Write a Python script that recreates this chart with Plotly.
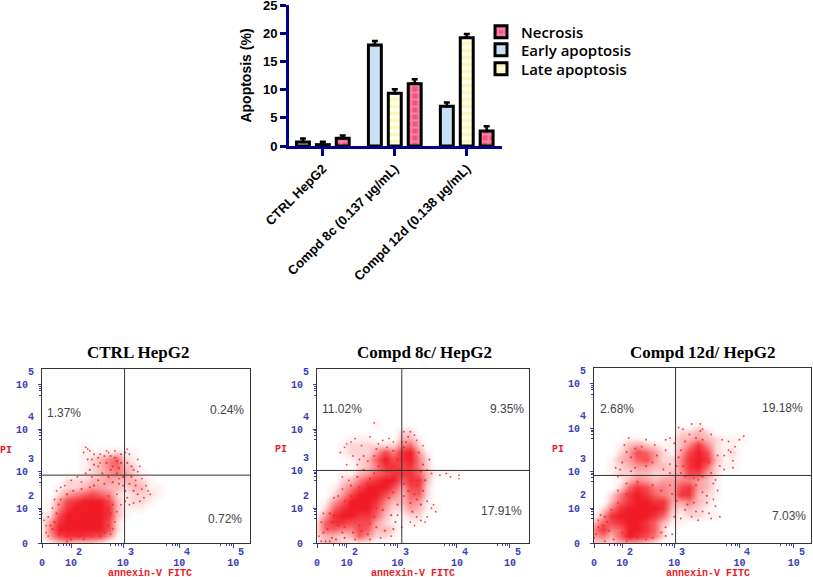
import plotly.graph_objects as go

# ---- bar chart values ----
categories = ["CTRL HepG2", "Compd 8c (0.137 μg/mL)", "Compd 12d (0.138 μg/mL)"]
early = [0.72, 17.91, 7.03]
late = [0.24, 9.35, 19.18]
necrosis = [1.37, 11.02, 2.68]
early_err = [0.6, 0.7, 0.7]
late_err = [0.5, 0.7, 0.7]
necrosis_err = [0.5, 0.8, 0.8]
bar_ticks = [0, 5, 10, 15, 20, 25]

# ---- flow panels: axes in % of display width/height ----
titles = ["CTRL HepG2", "Compd 8c/ HepG2", "Compd 12d/ HepG2"]
exponents = ["2", "3", "4", "5"]
x_decades = [[14, 39, 66, 92], [14, 38, 66, 91], [13, 37, 67, 92]]
y_decades = [[20, 41, 65.5, 91], [20, 41.7, 65.5, 91], [20, 41, 65.5, 91]]
gates_x = [39.7, 40, 37.6]
gates_y = [39, 41.7, 38.6]
q_ul = ["1.37%", "11.02%", "2.68%"]
q_ur = ["0.24%", "9.35%", "19.18%"]
q_lr = ["0.72%", "17.91%", "7.03%"]

# event density, 0-9, cells every 4 % of display; rows from y=72 down to y=0
density_x = list(range(0, 76, 4))
density_y = list(range(72, -4, -4))
ctrl_density = [
    "0000000000000000000",
    "0000000000000000000",
    "0000000000000000000",
    "0000000000000000000",
    "0000010000000000000",
    "0000011112110000000",
    "0000012356210000000",
    "0000012356320000000",
    "0000012345421000000",
    "0002223343332100000",
    "0012234433233110000",
    "0024567652122210000",
    "0147899973122100000",
    "0158999983111000000",
    "1279999983100000000",
    "1489999972000000000",
    "1599999972000000000",
    "1478887741000000000",
    "0123222100000000000",
]
comp8_density = [
    "0000000000000000000",
    "0000000100000000000",
    "0000000000220000000",
    "0000111000331000000",
    "0001222222562000000",
    "0001222475894100000",
    "0000123697895200000",
    "0000023588785200000",
    "0001134678886311100",
    "0002357899688300000",
    "0013579997477200000",
    "0024799975366200000",
    "0146999853354100000",
    "0268999742243110000",
    "1489988631122000000",
    "2688777421011000000",
    "2665576332000000000",
    "2332364221000000000",
    "1332111000000000000",
]
comp12_density = [
    "0000000000000000000",
    "0000000000001000000",
    "0000000000223200000",
    "0000110001334321110",
    "0001343211358521100",
    "0002476421479721200",
    "0013467422589831100",
    "0012344332589621100",
    "0012233223477420000",
    "0001354344554310000",
    "0002687554784310000",
    "0025898654883210000",
    "0036899884453200000",
    "0258999983232100000",
    "0489999862122110000",
    "3678998631100000000",
    "5856998620000000000",
    "4536987520000000000",
    "2223332100000000000",
]
density_sets = [ctrl_density, comp8_density, comp12_density]

# individual events around the clouds, read in % of display
ctrl_mid = [(34,44),(36,47),(33,42),(37,43),(35,49),(38,46),(31,46),(33,50),(29,40),(32,38),(36,40),(27,36),(25,33),(30,34),(34,35),
            (5,8),(6,12),(4,10),(7,17),(8,22),(9,25),(12,28),(15,30),(19,31),(23,32),(32,27),(34,22),(33,17),(32,10),(30,6),(24,4),(18,4),(12,4),(8,5),
            (37,34),(40,30),(42,34),(44,30),(41,26),(46,28),(43,38),(45,33),(39,38),(41,46),(43,44),(44,42),(38,51),(40,52),(30,50),(27,49),(25,45),(23,42),(21,40)]
ctrl_sparse = [(0,17),(1,13),(2,6),(2,10),(3,4),(3,15),(5,20),(6,25),(7,30),(9,32),(11,33),(14,36),(17,38),(19,35),(24,38),(21,55),(22,54),(23,53),(20,52),(22,48),
               (25,51),(28,51),(32,52),(41,54),(42,51),(46,48),(47,44),(46,41),(48,37),(50,33),(52,28),(51,30),(49,26),(47,24),(44,23),(40,24),(36,28),(36,18),(35,12),(34,8),
               (33,5),(28,4),(20,2),(14,2),(12,1),(27,44),(24,48),(28,46),(31,53),(35,53),(37,37),(39,33),(38,22),(42,22),(45,36),(48,31)]
comp8_mid = [(5,8),(7,12),(3,6),(8,16),(6,17),(10,10),(13,9),(17,6),(21,7),(24,5),(20,10),(25,11),(28,9),(27,15),(31,19),(34,26),(36,29),(38,22),(13,24),(16,27),
             (20,32),(25,37),(27,40),(29,44),(27,50),(28,54),(36,53),(38,48),(39,42),(33,41),(42,58),(43,61),(41,55),(48,52),(50,45),(49,41),(51,36),(50,30),(46,28),(43,30),
             (47,25),(44,23),(49,22),(45,18),(47,33),(41,34),(7,3),(9,2),(13,3),(12,6),(22,42),(19,38),(16,33),(24,34),(28,20),(35,16),(37,12),(32,7),(36,8),(41,27)]
comp8_sparse = [(1,4),(2,12),(3,17),(2,1),(4,1),(6,1),(10,27),(8,26),(12,31),(14,57),(16,58),(13,55),(18,60),(21,56),(25,61),(27,69),(22,50),(17,50),(19,45),(24,47),
                (14,45),(11,52),(31,59),(33,55),(36,58),(41,64),(44,64),(46,62),(47,59),(50,56),(53,48),(52,42),(54,40),(58,39),(61,40),(63,38),(67,39),(67,37),(56,18),(54,20),
                (52,24),(52,15),(49,13),(51,12),(47,15),(44,12),(40,9),(38,16),(35,4),(30,3),(25,2),(18,2),(40,58),(34,60),(29,57),(15,36),(12,38),(20,48),(55,22),(46,10)]
comp12_mid = [(4,10),(2,9),(6,12),(7,7),(5,15),(8,19),(11,23),(15,28),(15,34),(20,35),(27,33),(31,30),(35,33),(36,28),(37,15),(33,9),(31,6),(15,4),(13,6),(20,3),
              (27,3),(17,49),(19,54),(22,55),(15,52),(13,46),(12,42),(27,46),(29,50),(24,44),(19,43),(17,41),(40,40),(42,38),(38,44),(40,53),(42,58),(47,60),(50,59),(53,46),
              (54,40),(50,38),(46,37),(41,44),(39,49),(48,36),(46,23),(43,22),(38,24),(42,19),(47,33),(50,29),(52,27),(44,62),(49,64)]
comp12_sparse = [(0,3),(1,5),(2,13),(3,16),(5,1),(9,2),(11,30),(10,43),(11,38),(14,56),(16,60),(24,59),(28,56),(33,59),(35,60),(33,53),(35,45),(32,42),(37,57),(35,40),
                 (39,66),(41,65),(45,68),(49,68),(50,65),(54,62),(59,59),(62,58),(65,55),(69,61),(62,53),(63,52),(60,50),(64,47),(64,43),(58,44),(56,36),(55,34),(57,50),(53,17),
                 (58,15),(52,23),(55,25),(50,18),(47,18),(48,13),(45,15),(40,14),(36,5),(33,4),(24,2),(15,1),(67,59),(60,42),(57,30),(54,14),(56,21)]
mid_sets = [ctrl_mid, comp8_mid, comp12_mid]
sparse_sets = [ctrl_sparse, comp8_sparse, comp12_sparse]

# ---- layout constants (pixels) ----
W, H = 813, 577
boxes = [(42, 250, 369, 543), (317, 529, 369, 543), (594, 811, 368, 543)]
title_px = [(138, 352), (424, 352), (702, 352)]
xt_px = [(150, 573), (413, 573), (708, 573)]
pi_px = [(6, 450), (281, 449), (558, 449)]
pct_ul = [(10.4, 74.7), (11.6, 77), (10.6, 76.6)]
pct_ur = [(89, 76.6), (89.7, 77), (87, 77.4)]
pct_lr = [(88, 14), (87, 18.6), (90, 15.3)]
legend_rows = {"legend": 69, "legend2": 32, "legend3": 50}

NAVY = "#00008b"
BLUE = "#3c3cb4"
RED = "#e8202a"
GREY = "#444444"
MONO = "Liberation Mono"
SANS = "Liberation Sans"
SCALE = [[0, "#ffffff"], [0.12, "#fff0f0"], [0.35, "#fcb4b4"], [0.7, "#f65a5e"], [1, "#f01c28"]]

def px(x): return x / W
def py(y): return 1 - y / H
def minors(decades):
    out = []
    for d in decades:
        out += [d - 1, d - 2, d - 3.5, d - 6]
    return out

fig = go.Figure()
series = [("Early apoptosis", early, early_err, "#c9dff5", "", "#c9dff5", "legend3"),
          ("Late apoptosis", late, late_err, "#fffef0", "-", "#f7ef7c", "legend"),
          ("Necrosis", necrosis, necrosis_err, "#f4527f", "+", "#f9b9cd", "legend2")]
for name, vals, errs, bg, shape, fg, leg in series:
    fig.add_trace(go.Bar(
        name=name, x=categories, y=vals, xaxis="x", yaxis="y", legend=leg,
        error_y=dict(type="data", symmetric=False, array=errs, arrayminus=[0]*3, color="black", thickness=2.5, width=3),
        marker=dict(color=bg, line=dict(color="black", width=3),
                    pattern=dict(shape=shape, fgcolor=fg, bgcolor=bg, size=7, solidity=0.5))))

annotations = []
shapes = []
layout_axes = {}
tfont = dict(family=MONO, size=10, color=BLUE, weight="bold")
for i, (x0, x1, y0, y1) in enumerate(boxes):
    n = i + 2
    xa, ya = f"x{n}", f"y{n}"
    fig.add_trace(go.Heatmap(x=density_x, y=density_y, z=[[int(c) for c in row] for row in density_sets[i]],
                             xaxis=xa, yaxis=ya, zmin=0, zmax=9, zsmooth="best", colorscale=SCALE,
                             showscale=False, hoverinfo="skip"))
    for pts, size, op in [(mid_sets[i], 2.2, 0.8), (sparse_sets[i], 1.8, 0.85)]:
        fig.add_trace(go.Scatter(x=[p[0] for p in pts], y=[p[1] for p in pts], mode="markers", xaxis=xa, yaxis=ya,
                                 showlegend=False, marker=dict(color="#f0202c", size=size, opacity=op, line=dict(width=0))))
    layout_axes[f"xaxis{n}"] = dict(
        domain=[px(x0), px(x1)], range=[0, 100], anchor=ya, showgrid=False, zeroline=False,
        showline=True, linecolor="#333333", linewidth=1, mirror=True, ticks="outside", ticklen=4, tickcolor=BLUE,
        tickvals=[0] + x_decades[i], ticktext=["0"] + ["10"] * 4, ticklabelstandoff=6, tickfont=tfont,
        ticklabeloverflow="allow", minor=dict(tickvals=minors(x_decades[i]), ticks="outside", ticklen=2, tickcolor=BLUE))
    layout_axes[f"yaxis{n}"] = dict(
        domain=[py(y1), py(y0)], range=[0, 100], anchor=xa, showgrid=False, zeroline=False,
        showline=True, linecolor="#333333", linewidth=1, mirror=True, ticks="outside", ticklen=3, tickcolor=BLUE,
        tickvals=[0] + y_decades[i], ticktext=["0"] + ["10"] * 4, ticklabelstandoff=8, tickfont=tfont,
        ticklabeloverflow="allow", minor=dict(tickvals=minors(y_decades[i]), ticks="outside", ticklen=2, tickcolor=BLUE))
    shapes.append(dict(type="line", xref=xa, yref=ya, x0=gates_x[i], x1=gates_x[i], y0=0, y1=100, line=dict(color="#333333", width=1)))
    shapes.append(dict(type="line", xref=xa, yref=ya, x0=0, x1=100, y0=gates_y[i], y1=gates_y[i], line=dict(color="#333333", width=1)))
    centred = dict(xanchor="center", yanchor="middle", showarrow=False)
    for e, xv, yv in zip(exponents, x_decades[i], y_decades[i]):
        annotations.append(dict(text=e, xref=xa, yref=f"{ya} domain", x=xv, y=0, xshift=8, yshift=-9, font=tfont, **centred))
        annotations.append(dict(text=e, xref=f"{xa} domain", yref=ya, x=0, y=yv, xshift=-11, yshift=12, font=tfont, **centred))
    tx, ty = title_px[i]
    annotations.append(dict(text=f"<b>{titles[i]}</b>", xref="paper", yref="paper", x=px(tx), y=py(ty),
                            font=dict(family="Liberation Serif", size=17, color="black"), **centred))
    ax, ay = xt_px[i]
    annotations.append(dict(text="annexin-V FITC", xref="paper", yref="paper", x=px(ax), y=py(ay),
                            font=dict(family=MONO, size=10, color=RED, weight="bold"), **centred))
    pxx, pyy = pi_px[i]
    annotations.append(dict(text="PI", xref="paper", yref="paper", x=px(pxx), y=py(pyy),
                            font=dict(family=MONO, size=10, color=RED, weight="bold"), **centred))
    for txt, (xv, yv) in [(q_ul[i], pct_ul[i]), (q_ur[i], pct_ur[i]), (q_lr[i], pct_lr[i])]:
        annotations.append(dict(text=txt, xref=xa, yref=ya, x=xv, y=yv,
                                font=dict(family=SANS, size=12, color=GREY), **centred))

legend_style = dict(x=px(481), xanchor="left", yanchor="middle", itemwidth=30, bgcolor="rgba(0,0,0,0)",
                    font=dict(family="Open Sans", size=15, color="black", weight=600))
legends = {k: dict(y=py(v), **legend_style) for k, v in legend_rows.items()}

fig.update_layout(
    width=W, height=H, margin=dict(l=0, r=0, t=0, b=0, autoexpand=False), paper_bgcolor="white", plot_bgcolor="white",
    barmode="group", bargap=0.17, bargroupgap=0.35, showlegend=True,
    font=dict(family=SANS, color="black"),
    xaxis=dict(domain=[px(289), px(502)], range=[-0.47, 2.49], anchor="y", showgrid=False, zeroline=False,
               showline=True, linecolor=NAVY, linewidth=3, ticks="outside", ticklen=7, tickwidth=3, tickcolor=NAVY,
               tickangle=-45, tickfont=dict(family=SANS, size=13, weight="bold", color="black")),
    yaxis=dict(domain=[py(146), py(5)], range=[0, 25], anchor="x", showgrid=False, zeroline=False,
               showline=True, linecolor=NAVY, linewidth=3, ticks="outside", ticklen=6, tickwidth=3, tickcolor=NAVY,
               tickvals=bar_ticks, tickfont=dict(family=SANS, size=13, weight="bold", color="black"),
               ticklabeloverflow="allow",
               title=dict(text="<b>Apoptosis (%)</b>", font=dict(family=SANS, size=14), standoff=9)),
    annotations=annotations, shapes=shapes, **legends, **layout_axes)

fig.write_html("out.html", config={"displayModeBar": False}, post_script="document.body.style.margin='0';")
